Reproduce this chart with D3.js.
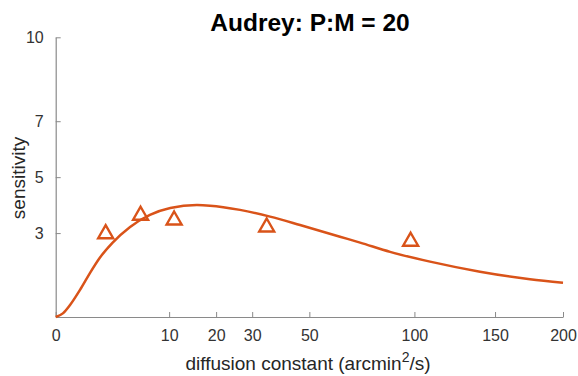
<!DOCTYPE html>
<meta charset="utf-8">
<style>
  body { margin: 0; background: #fff; }
  * { font-family: 'Liberation Sans', Arial, sans-serif; }
</style>
<svg width="578" height="376"></svg>
<script src="https://cdn.jsdelivr.net/npm/d3@7"></script>
<script>
// measured triangles
var pointD = [1.94, 5.6, 10.9, 34.6, 97.9];
var pointS = [3.05, 3.71, 3.54, 3.29, 2.78];

// fitted curve
var curveD = [0, 0.04, 0.16, 0.46, 0.91, 1.5, 2.5, 4.3, 6.9, 10.2, 15.5, 18.5, 26.4, 35.7, 46.4, 62.8, 72, 86.9, 108.9, 139.9, 174.8, 200];
var curveS = [0, 0.13, 0.43, 0.97, 1.57, 2.11, 2.65, 3.22, 3.65, 3.90, 4.00, 3.98, 3.83, 3.59, 3.29, 2.87, 2.66, 2.33, 1.98, 1.62, 1.35, 1.22];

var xTicks = [0, 10, 20, 30, 50, 100, 150, 200];
var yTicks = [3, 5, 7, 10];

var orange = "#D95319";
var svg = d3.select("svg");

var x = d3.scaleSqrt().domain([0, 200]).range([55.7, 563]);
var y = d3.scaleLinear().domain([0, 10]).range([317, 37.3]);

var xAxis = svg.append("g")
    .attr("transform", "translate(0," + y(0) + ")")
    .call(d3.axisBottom(x).tickValues(xTicks).tickSizeInner(-5).tickSizeOuter(0).tickPadding(13));

var yAxis = svg.append("g")
    .attr("transform", "translate(" + x(0) + ",0)")
    .call(d3.axisLeft(y).tickValues(yTicks).tickSizeInner(-5).tickSizeOuter(0).tickPadding(12));

[xAxis, yAxis].forEach(function(a) {
  a.select(".domain").attr("stroke", "#8a8a8a").attr("stroke-width", 1.2);
  a.selectAll(".tick line").attr("stroke", "#8a8a8a");
  a.selectAll(".tick text").attr("fill", "#333").style("font-size", "16px");
});

var line = d3.line()
    .x(function(d, i) { return x(curveD[i]); })
    .y(function(d, i) { return y(curveS[i]); })
    .curve(d3.curveMonotoneX);

svg.append("path")
    .datum(curveD)
    .attr("fill", "none")
    .attr("stroke", orange)
    .attr("stroke-width", 2.5)
    .attr("d", line);

function tri(cx, cy) {
  var w = 7.5, h = 6.5;
  return "M" + cx + "," + (cy - h) + "L" + (cx + w) + "," + (cy + h) + "L" + (cx - w) + "," + (cy + h) + "Z";
}

svg.selectAll(".pt")
    .data(pointD)
  .enter().append("path")
    .attr("class", "pt")
    .attr("fill", "none")
    .attr("stroke", orange)
    .attr("stroke-width", 2.4)
    .attr("d", function(d, i) { return tri(x(d), y(pointS[i])); });

svg.append("text")
    .attr("x", 310)
    .attr("y", 31)
    .attr("text-anchor", "middle")
    .attr("fill", "#000")
    .style("font-size", "24.5px")
    .style("font-weight", "bold")
    .text("Audrey: P:M = 20");

var xl = svg.append("text")
    .attr("x", 308)
    .attr("y", 370)
    .attr("text-anchor", "middle")
    .attr("fill", "#262626")
    .style("font-size", "19px");
xl.append("tspan").text("diffusion constant (arcmin");
xl.append("tspan").attr("dy", -8).style("font-size", "14px").text("2");
xl.append("tspan").attr("dy", 8).text("/s)");

svg.append("text")
    .attr("transform", "translate(25,178) rotate(-90)")
    .attr("text-anchor", "middle")
    .attr("fill", "#262626")
    .style("font-size", "19px")
    .text("sensitivity");
</script>
